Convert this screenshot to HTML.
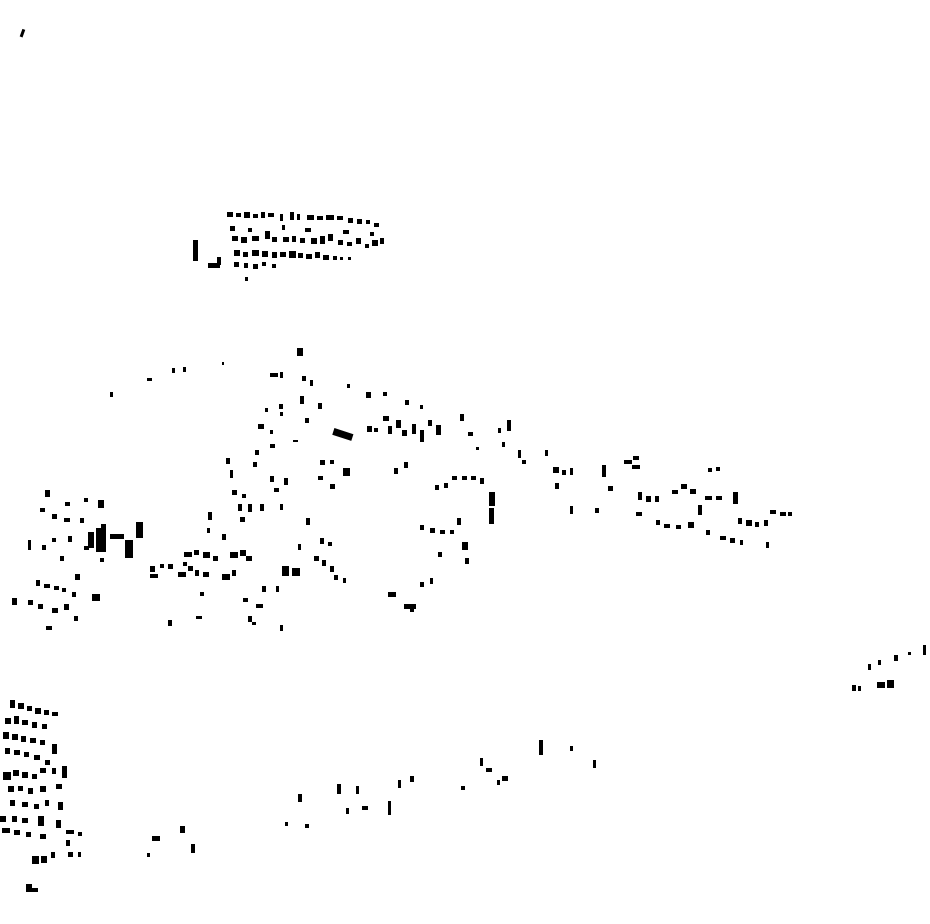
<!DOCTYPE html>
<html><head><meta charset="utf-8"><style>html,body{margin:0;padding:0;background:#fff}svg{display:block}</style></head>
<body>
<svg width="930" height="924" viewBox="0 0 930 924" xmlns="http://www.w3.org/2000/svg">
<g fill="#000">
<rect x="21" y="29" width="3" height="8" transform="rotate(20 22 33)"/>
<!-- top cluster -->
<rect x="227" y="212" width="6" height="5"/><rect x="236" y="213" width="5" height="4"/><rect x="244" y="212" width="6" height="6"/><rect x="253" y="214" width="5" height="4"/><rect x="261" y="212" width="4" height="6"/><rect x="268" y="213" width="6" height="4"/><rect x="280" y="214" width="3" height="7"/><rect x="290" y="212" width="4" height="8"/><rect x="297" y="214" width="3" height="6"/><rect x="307" y="215" width="7" height="5"/><rect x="317" y="216" width="6" height="4"/><rect x="326" y="215" width="8" height="5"/><rect x="337" y="216" width="6" height="4"/><rect x="348" y="218" width="5" height="5"/><rect x="357" y="219" width="5" height="5"/><rect x="366" y="220" width="4" height="4"/><rect x="374" y="223" width="5" height="4"/>
<rect x="230" y="226" width="5" height="5"/><rect x="248" y="228" width="4" height="4"/><rect x="282" y="225" width="3" height="5"/><rect x="305" y="228" width="6" height="4"/><rect x="343" y="230" width="6" height="4"/><rect x="370" y="232" width="4" height="4"/>
<rect x="232" y="236" width="6" height="5"/><rect x="241" y="237" width="6" height="6"/><rect x="252" y="236" width="7" height="5"/><rect x="265" y="231" width="5" height="8"/><rect x="272" y="237" width="5" height="5"/><rect x="283" y="237" width="6" height="5"/><rect x="292" y="236" width="4" height="6"/><rect x="300" y="238" width="5" height="5"/><rect x="311" y="238" width="6" height="6"/><rect x="320" y="236" width="5" height="8"/><rect x="328" y="234" width="5" height="7"/><rect x="338" y="240" width="5" height="5"/><rect x="347" y="242" width="5" height="4"/><rect x="356" y="238" width="5" height="6"/><rect x="365" y="244" width="4" height="4"/><rect x="372" y="240" width="6" height="6"/><rect x="380" y="238" width="4" height="6"/>
<rect x="234" y="250" width="6" height="6"/><rect x="243" y="252" width="5" height="5"/><rect x="252" y="250" width="7" height="6"/><rect x="262" y="251" width="6" height="6"/><rect x="272" y="252" width="5" height="6"/><rect x="280" y="252" width="6" height="5"/><rect x="289" y="251" width="7" height="7"/><rect x="298" y="253" width="5" height="5"/><rect x="306" y="254" width="6" height="5"/><rect x="315" y="252" width="5" height="6"/><rect x="323" y="255" width="6" height="5"/><rect x="333" y="256" width="4" height="4"/><rect x="340" y="257" width="3" height="3"/><rect x="348" y="257" width="3" height="3"/>
<rect x="234" y="262" width="5" height="5"/><rect x="244" y="263" width="4" height="5"/><rect x="253" y="264" width="5" height="5"/><rect x="262" y="262" width="4" height="4"/><rect x="272" y="264" width="4" height="4"/><rect x="245" y="277" width="3" height="4"/>
<rect x="193" y="240" width="5" height="21"/><rect x="208" y="263" width="12" height="5"/><rect x="217" y="257" width="4" height="8"/>
<!-- central -->
<rect x="297" y="348" width="6" height="8"/><rect x="333" y="431" width="20" height="7" transform="rotate(18 343 434)"/>
<rect x="110" y="392" width="3" height="5"/><rect x="147" y="378" width="5" height="3"/><rect x="172" y="368" width="3" height="5"/><rect x="183" y="367" width="3" height="5"/><rect x="222" y="362" width="2" height="3"/>
<rect x="270" y="373" width="8" height="4"/><rect x="280" y="372" width="3" height="6"/><rect x="302" y="376" width="4" height="5"/><rect x="310" y="380" width="3" height="6"/><rect x="347" y="384" width="3" height="4"/><rect x="366" y="392" width="5" height="6"/><rect x="383" y="392" width="4" height="4"/>
<rect x="300" y="396" width="4" height="8"/><rect x="318" y="403" width="4" height="6"/><rect x="279" y="404" width="4" height="5"/><rect x="265" y="408" width="3" height="4"/><rect x="280" y="412" width="3" height="4"/><rect x="305" y="418" width="4" height="5"/><rect x="405" y="400" width="4" height="5"/><rect x="420" y="405" width="3" height="4"/>
<rect x="367" y="426" width="5" height="6"/><rect x="374" y="428" width="4" height="4"/><rect x="383" y="416" width="6" height="5"/><rect x="388" y="426" width="4" height="8"/><rect x="396" y="420" width="5" height="8"/><rect x="402" y="430" width="5" height="6"/><rect x="412" y="424" width="4" height="10"/><rect x="420" y="430" width="4" height="12"/><rect x="428" y="420" width="4" height="6"/><rect x="436" y="425" width="5" height="10"/><rect x="460" y="414" width="4" height="7"/><rect x="468" y="432" width="5" height="4"/><rect x="476" y="447" width="3" height="3"/><rect x="498" y="428" width="3" height="5"/><rect x="507" y="420" width="4" height="11"/><rect x="502" y="442" width="3" height="5"/><rect x="518" y="450" width="3" height="8"/><rect x="522" y="460" width="4" height="4"/><rect x="545" y="450" width="3" height="6"/>
<rect x="553" y="467" width="6" height="6"/><rect x="562" y="470" width="4" height="5"/><rect x="570" y="468" width="3" height="7"/><rect x="555" y="483" width="4" height="6"/><rect x="602" y="465" width="4" height="12"/><rect x="608" y="486" width="5" height="5"/><rect x="624" y="460" width="8" height="4"/><rect x="633" y="456" width="6" height="4"/><rect x="632" y="465" width="8" height="4"/>
<rect x="638" y="492" width="4" height="8"/><rect x="646" y="496" width="5" height="6"/><rect x="655" y="496" width="4" height="6"/><rect x="672" y="490" width="6" height="4"/><rect x="681" y="484" width="6" height="5"/><rect x="690" y="489" width="6" height="5"/><rect x="708" y="468" width="4" height="4"/><rect x="716" y="467" width="4" height="4"/><rect x="705" y="496" width="7" height="4"/><rect x="716" y="496" width="6" height="4"/><rect x="733" y="492" width="5" height="12"/><rect x="770" y="510" width="6" height="4"/><rect x="780" y="512" width="6" height="4"/><rect x="788" y="512" width="4" height="4"/>
<rect x="636" y="512" width="6" height="4"/><rect x="656" y="520" width="4" height="5"/><rect x="664" y="524" width="6" height="4"/><rect x="676" y="525" width="5" height="4"/><rect x="688" y="522" width="6" height="6"/><rect x="698" y="505" width="4" height="10"/><rect x="706" y="530" width="4" height="5"/><rect x="720" y="536" width="6" height="4"/><rect x="730" y="538" width="5" height="5"/><rect x="738" y="518" width="4" height="6"/><rect x="746" y="520" width="6" height="6"/><rect x="755" y="522" width="4" height="5"/><rect x="764" y="520" width="4" height="6"/><rect x="766" y="542" width="3" height="6"/><rect x="740" y="540" width="3" height="5"/><rect x="570" y="506" width="3" height="8"/><rect x="595" y="508" width="4" height="5"/>
<rect x="489" y="492" width="6" height="14"/><rect x="489" y="508" width="5" height="16"/><rect x="452" y="476" width="5" height="4"/><rect x="462" y="476" width="5" height="4"/><rect x="471" y="476" width="5" height="4"/><rect x="480" y="478" width="4" height="6"/><rect x="435" y="485" width="4" height="5"/><rect x="444" y="483" width="4" height="5"/>
<rect x="420" y="525" width="4" height="5"/><rect x="430" y="528" width="5" height="5"/><rect x="440" y="530" width="5" height="4"/><rect x="450" y="530" width="4" height="4"/><rect x="457" y="518" width="4" height="7"/><rect x="462" y="542" width="6" height="8"/><rect x="465" y="558" width="4" height="6"/><rect x="438" y="552" width="4" height="5"/><rect x="420" y="582" width="4" height="5"/><rect x="430" y="578" width="3" height="6"/><rect x="388" y="592" width="8" height="5"/><rect x="404" y="604" width="12" height="5"/><rect x="410" y="609" width="4" height="3"/>
<rect x="320" y="460" width="5" height="5"/><rect x="330" y="460" width="4" height="4"/><rect x="343" y="468" width="7" height="8"/><rect x="318" y="476" width="5" height="4"/><rect x="330" y="484" width="5" height="5"/><rect x="394" y="468" width="4" height="6"/><rect x="404" y="462" width="4" height="6"/>
<rect x="258" y="424" width="6" height="5"/><rect x="270" y="430" width="3" height="4"/><rect x="293" y="440" width="5" height="2"/><rect x="270" y="444" width="5" height="4"/><rect x="255" y="450" width="4" height="5"/><rect x="253" y="462" width="4" height="5"/><rect x="226" y="458" width="4" height="6"/><rect x="230" y="470" width="3" height="8"/><rect x="232" y="490" width="5" height="5"/><rect x="242" y="494" width="4" height="4"/><rect x="270" y="476" width="4" height="6"/><rect x="284" y="478" width="4" height="7"/><rect x="274" y="488" width="5" height="4"/><rect x="238" y="504" width="4" height="7"/><rect x="248" y="504" width="4" height="8"/><rect x="260" y="504" width="4" height="7"/><rect x="240" y="517" width="5" height="5"/><rect x="208" y="512" width="4" height="8"/><rect x="222" y="534" width="4" height="6"/><rect x="207" y="528" width="3" height="5"/><rect x="280" y="504" width="3" height="6"/>
<rect x="184" y="552" width="8" height="5"/><rect x="194" y="550" width="5" height="5"/><rect x="203" y="552" width="7" height="6"/><rect x="213" y="556" width="5" height="5"/><rect x="230" y="552" width="8" height="6"/><rect x="240" y="550" width="6" height="6"/><rect x="246" y="556" width="6" height="5"/>
<rect x="150" y="566" width="5" height="6"/><rect x="150" y="574" width="8" height="4"/><rect x="160" y="564" width="4" height="4"/><rect x="168" y="564" width="5" height="5"/><rect x="178" y="572" width="8" height="5"/><rect x="188" y="566" width="5" height="5"/><rect x="195" y="570" width="4" height="6"/><rect x="203" y="572" width="6" height="5"/><rect x="222" y="574" width="8" height="6"/><rect x="232" y="570" width="4" height="6"/><rect x="183" y="562" width="4" height="4"/>
<rect x="282" y="566" width="7" height="10"/><rect x="292" y="568" width="8" height="8"/><rect x="262" y="586" width="4" height="6"/><rect x="276" y="586" width="3" height="6"/><rect x="243" y="598" width="5" height="4"/><rect x="256" y="604" width="7" height="4"/><rect x="200" y="592" width="4" height="4"/><rect x="168" y="620" width="4" height="6"/><rect x="196" y="616" width="6" height="3"/><rect x="248" y="616" width="4" height="6"/><rect x="252" y="622" width="4" height="3"/><rect x="280" y="625" width="3" height="6"/>
<rect x="306" y="518" width="4" height="7"/><rect x="320" y="538" width="4" height="6"/><rect x="328" y="542" width="4" height="4"/><rect x="314" y="556" width="5" height="5"/><rect x="322" y="560" width="4" height="6"/><rect x="330" y="566" width="4" height="6"/><rect x="334" y="575" width="4" height="5"/><rect x="343" y="578" width="3" height="5"/><rect x="298" y="544" width="3" height="6"/>
<!-- left group -->
<rect x="45" y="490" width="5" height="7"/><rect x="65" y="502" width="5" height="4"/><rect x="84" y="498" width="4" height="4"/><rect x="98" y="500" width="6" height="8"/><rect x="40" y="508" width="5" height="4"/><rect x="52" y="514" width="5" height="5"/><rect x="64" y="518" width="6" height="4"/><rect x="80" y="518" width="4" height="5"/><rect x="28" y="540" width="3" height="10"/><rect x="42" y="545" width="4" height="5"/><rect x="52" y="538" width="4" height="4"/><rect x="68" y="536" width="4" height="6"/><rect x="84" y="546" width="5" height="4"/><rect x="88" y="532" width="6" height="16"/><rect x="96" y="528" width="6" height="24"/><rect x="101" y="524" width="5" height="28"/><rect x="110" y="534" width="14" height="5"/><rect x="125" y="540" width="8" height="18"/><rect x="136" y="522" width="7" height="16"/><rect x="36" y="580" width="4" height="6"/><rect x="44" y="584" width="6" height="4"/><rect x="54" y="586" width="5" height="4"/><rect x="62" y="588" width="4" height="4"/><rect x="75" y="574" width="5" height="6"/><rect x="12" y="598" width="5" height="7"/><rect x="28" y="600" width="5" height="5"/><rect x="38" y="604" width="5" height="5"/><rect x="52" y="608" width="6" height="5"/><rect x="64" y="604" width="5" height="6"/><rect x="72" y="592" width="4" height="5"/><rect x="92" y="594" width="8" height="7"/><rect x="46" y="626" width="6" height="4"/><rect x="74" y="616" width="4" height="5"/><rect x="60" y="556" width="4" height="5"/><rect x="100" y="558" width="4" height="4"/>
<!-- right -->
<rect x="868" y="664" width="3" height="6"/><rect x="878" y="660" width="3" height="5"/><rect x="894" y="655" width="4" height="6"/><rect x="923" y="645" width="3" height="10"/><rect x="852" y="685" width="4" height="6"/><rect x="858" y="686" width="3" height="5"/><rect x="877" y="682" width="8" height="6"/><rect x="887" y="680" width="7" height="8"/><rect x="908" y="652" width="3" height="3"/>
<!-- bottom -->
<rect x="539" y="740" width="4" height="15"/><rect x="570" y="746" width="3" height="5"/><rect x="593" y="760" width="3" height="8"/><rect x="480" y="758" width="3" height="8"/><rect x="486" y="768" width="6" height="4"/><rect x="502" y="776" width="6" height="5"/><rect x="497" y="780" width="3" height="5"/><rect x="461" y="786" width="4" height="4"/><rect x="398" y="780" width="3" height="8"/><rect x="410" y="776" width="4" height="6"/><rect x="337" y="784" width="4" height="10"/><rect x="356" y="786" width="3" height="8"/><rect x="346" y="808" width="3" height="6"/><rect x="362" y="806" width="6" height="4"/><rect x="388" y="801" width="3" height="14"/><rect x="298" y="794" width="4" height="8"/><rect x="285" y="822" width="3" height="4"/><rect x="305" y="824" width="4" height="4"/><rect x="152" y="836" width="8" height="5"/><rect x="180" y="826" width="5" height="7"/><rect x="191" y="844" width="4" height="9"/><rect x="147" y="853" width="3" height="4"/>
<!-- bottom-left cluster -->
<rect x="10" y="700" width="5" height="8"/><rect x="18" y="703" width="6" height="6"/><rect x="27" y="706" width="5" height="5"/><rect x="35" y="708" width="6" height="6"/><rect x="44" y="710" width="5" height="5"/><rect x="52" y="712" width="6" height="4"/>
<rect x="5" y="718" width="6" height="6"/><rect x="14" y="716" width="5" height="8"/><rect x="22" y="720" width="6" height="5"/><rect x="32" y="722" width="5" height="6"/><rect x="42" y="724" width="5" height="5"/>
<rect x="3" y="732" width="6" height="7"/><rect x="12" y="734" width="6" height="6"/><rect x="21" y="736" width="5" height="6"/><rect x="30" y="738" width="6" height="5"/><rect x="40" y="740" width="5" height="5"/><rect x="52" y="744" width="5" height="10"/>
<rect x="5" y="748" width="5" height="6"/><rect x="14" y="750" width="6" height="5"/><rect x="24" y="752" width="5" height="5"/><rect x="34" y="755" width="6" height="5"/><rect x="45" y="760" width="5" height="5"/>
<rect x="3" y="772" width="8" height="8"/><rect x="13" y="770" width="6" height="6"/><rect x="22" y="772" width="6" height="6"/><rect x="32" y="774" width="5" height="5"/><rect x="40" y="768" width="6" height="5"/><rect x="52" y="768" width="4" height="6"/><rect x="62" y="766" width="5" height="12"/>
<rect x="8" y="786" width="6" height="6"/><rect x="18" y="786" width="5" height="5"/><rect x="28" y="788" width="5" height="6"/><rect x="40" y="786" width="6" height="6"/><rect x="56" y="784" width="6" height="5"/>
<rect x="10" y="800" width="5" height="6"/><rect x="22" y="802" width="6" height="5"/><rect x="34" y="804" width="5" height="5"/><rect x="45" y="800" width="4" height="6"/><rect x="58" y="802" width="5" height="8"/>
<rect x="0" y="816" width="6" height="6"/><rect x="12" y="816" width="5" height="6"/><rect x="22" y="818" width="6" height="5"/><rect x="38" y="816" width="6" height="10"/><rect x="56" y="820" width="5" height="8"/>
<rect x="2" y="828" width="8" height="5"/><rect x="14" y="830" width="6" height="5"/><rect x="26" y="832" width="5" height="5"/><rect x="40" y="834" width="6" height="5"/><rect x="66" y="830" width="8" height="4"/><rect x="78" y="832" width="4" height="4"/><rect x="66" y="840" width="4" height="6"/>
<rect x="32" y="856" width="7" height="8"/><rect x="41" y="856" width="6" height="7"/><rect x="51" y="852" width="4" height="6"/><rect x="68" y="852" width="5" height="5"/><rect x="78" y="852" width="3" height="5"/>
<rect x="26" y="884" width="6" height="8"/><rect x="32" y="888" width="6" height="4"/>
</g>
</svg>
</body></html>
